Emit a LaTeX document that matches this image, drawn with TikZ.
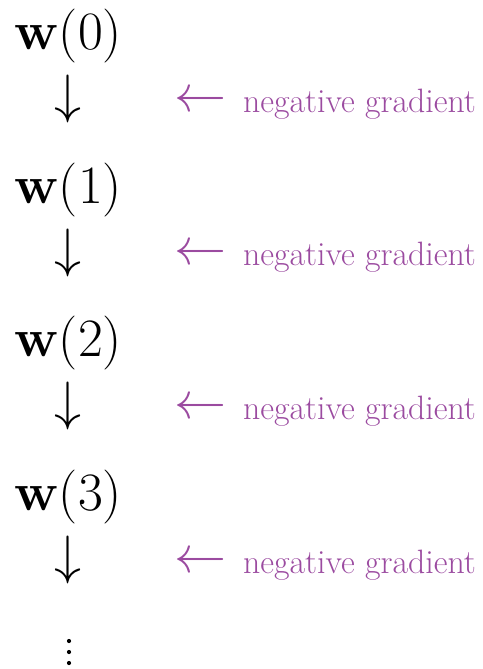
\RequirePackage{fix-cm}
\documentclass[tikz,border=0pt]{standalone}
\usepackage{amsmath}
\definecolor{grad}{RGB}{155,75,160}
\begin{document}
\begin{tikzpicture}[x=1pt,y=1pt,
  wlab/.style={anchor=base west,inner sep=0pt,font=\fontsize{54}{60}\selectfont},
  darrow/.style={anchor=base,inner sep=0pt,font=\fontsize{54}{60}\selectfont},
  larrow/.style={anchor=base west,inner sep=0pt,text=grad,font=\fontsize{52}{58}\selectfont},
  glab/.style={anchor=base west,inner sep=0pt,text=grad,font=\fontsize{33.8}{40}\selectfont},
  dotmark/.style={fill=black}]
\useasboundingbox (0,0) rectangle (482,-669);
\foreach \k in {0,1,2,3}{
  \pgfmathsetmacro{\yw}{-49.5-153.7*\k}
  \pgfmathsetmacro{\yd}{-112.5-153.7*\k}
  \pgfmathsetmacro{\yl}{-111-153.7*\k}
  \pgfmathsetmacro{\yg}{-112-153.7*\k}
  \node[wlab] (w\k) at (14,\yw) {$\mathbf{w}(\k)$};
  \node[darrow] (d\k) at (68,\yd) {$\downarrow$};
  \node[larrow] (l\k) at (174,\yl) {$\leftarrow$};
  \node[glab] (g\k) at (243,\yg) {negative gradient};
}
\fill[dotmark] (69,-641) circle (2.1);
\fill[dotmark] (69,-652) circle (2.1);
\fill[dotmark] (69,-663) circle (2.1);
\end{tikzpicture}
\end{document}
